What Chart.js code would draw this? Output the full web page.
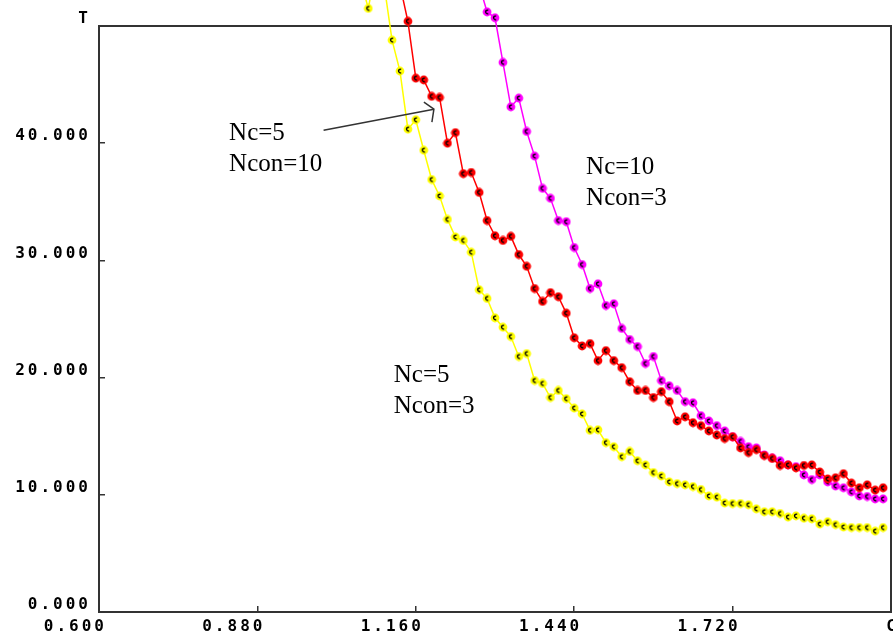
<!DOCTYPE html>
<html>
<head>
<meta charset="utf-8">
<script src="https://cdn.jsdelivr.net/npm/chart.js@4.4.0/dist/chart.umd.min.js"></script>
<style>
  body { margin: 0; background: #fff; }
  #wrap { width: 893px; height: 635px; }
</style>
</head>
<body>
<div id="wrap"><canvas id="chart" width="893" height="635"></canvas></div>
<script>
// C values shared by the three runs
const cValues = [1.062, 1.076, 1.090, 1.104, 1.118, 1.132, 1.146, 1.160, 1.174, 1.188,
  1.202, 1.216, 1.230, 1.244, 1.258, 1.272, 1.286, 1.300, 1.314, 1.328,
  1.342, 1.356, 1.370, 1.384, 1.398, 1.412, 1.426, 1.440, 1.454, 1.468,
  1.482, 1.496, 1.510, 1.524, 1.538, 1.552, 1.566, 1.580, 1.594, 1.608,
  1.622, 1.636, 1.650, 1.664, 1.678, 1.692, 1.706, 1.720, 1.734, 1.748,
  1.762, 1.776, 1.790, 1.804, 1.818, 1.832, 1.846, 1.860, 1.874, 1.888,
  1.902, 1.916, 1.930, 1.944, 1.958, 1.972, 1.986];

// T for Nc=5, Ncon=3 (yellow)
const tYellow = [54, 51.5, 55, 53.5, 48.8, 46.15, 41.2, 42.0, 39.4, 36.9,
  35.5, 33.5, 32.0, 31.7, 30.7, 27.5, 26.75, 25.1, 24.3, 23.5,
  21.8, 22.05, 19.75, 19.5, 18.3, 18.9, 18.2, 17.4, 16.9, 15.5,
  15.55, 14.45, 14.1, 13.25, 13.7, 12.9, 12.55, 11.9, 11.6, 11.1,
  10.95, 10.85, 10.7, 10.45, 9.9, 9.8, 9.3, 9.25, 9.25, 9.15,
  8.8, 8.55, 8.55, 8.4, 8.1, 8.2, 8.0, 7.95, 7.5, 7.7,
  7.45, 7.25, 7.2, 7.2, 7.2, 6.9, 7.2];

// T for Nc=5, Ncon=10 (red)
const tRed = [null, null, null, null, null, 53.5, 50.4, 45.55, 45.4, 44.0,
  43.9, 40.0, 40.9, 37.4, 37.5, 35.8, 33.4, 32.1, 31.7, 32.05,
  30.5, 29.5, 27.6, 26.5, 27.25, 26.9, 25.5, 23.4, 22.7, 22.9,
  21.45, 22.3, 21.45, 20.85, 19.65, 18.9, 18.9, 18.3, 18.8, 17.95,
  16.3, 16.65, 16.15, 15.9, 15.45, 15.1, 14.8, 14.95, 14.0, 13.6,
  13.85, 13.35, 13.1, 12.5, 12.55, 12.3, 12.5, 12.55, 11.95, 11.35,
  11.45, 11.8, 11.0, 10.6, 10.85, 10.4, 10.6];

// T for Nc=10, Ncon=3 (magenta)
const tMagenta = [null, null, null, null, null, null, null, null, null, null,
  null, null, null, null, null, 53.5, 51.2, 50.7, 46.9, 43.1,
  43.85, 41.0, 38.9, 36.15, 35.3, 33.4, 33.3, 31.1, 29.65, 27.6,
  28.0, 26.15, 26.3, 24.2, 23.25, 22.65, 21.2, 21.8, 19.75, 19.3,
  18.9, 17.95, 17.85, 16.75, 16.3, 15.9, 15.45, 14.95, 14.55, 14.1,
  14.0, 13.4, 13.15, 12.9, 12.55, 12.4, 11.7, 11.3, 11.7, 11.1,
  10.75, 10.6, 10.25, 9.9, 9.85, 9.65, 9.65];

const xTicks = [0.6, 0.88, 1.16, 1.44, 1.72, 2.0];
const yTicks = [0, 10, 20, 30, 40, 50];

// text notes, anchored in data units
const notes = [
  { lines: ["Nc=5", "Ncon=10"], x: 0.830, y: 40.3 },
  { lines: ["Nc=10", "Ncon=3"], x: 1.461, y: 37.35 },
  { lines: ["Nc=5", "Ncon=3"], x: 1.121, y: 19.66 }
];
const arrowFrom = { x: 0.997, y: 41.1 };
const arrowTo = { x: 1.192, y: 42.9 };

function pts(ys) {
  const out = [];
  ys.forEach((v, i) => { if (v !== null) out.push({ x: cValues[i], y: v }); });
  return out;
}

// little round marker with a dark mark inside, like the original plot
function marker(color) {
  const c = document.createElement('canvas');
  c.width = 10; c.height = 10;
  const g = c.getContext('2d');
  g.fillStyle = color;
  g.beginPath(); g.arc(5, 5, 4.4, 0, Math.PI * 2); g.fill();
  g.strokeStyle = '#000'; g.lineWidth = 1.3;
  g.beginPath(); g.arc(5.4, 5, 1.8, 0.35 * Math.PI, 1.65 * Math.PI); g.stroke();
  return c;
}

const framePlugin = {
  id: 'frame',
  beforeDraw(chart) {
    const { ctx, chartArea: a } = chart;
    ctx.save();
    ctx.fillStyle = '#fff';
    ctx.fillRect(0, 0, chart.width, chart.height);
    ctx.strokeStyle = '#333';
    ctx.lineWidth = 2;
    ctx.strokeRect(a.left, a.top, a.right - a.left, a.bottom - a.top);
    ctx.restore();
    ctx.letterSpacing = '3px';
  },
  beforeDatasetsDraw(chart) {
    chart.ctx.letterSpacing = '0px';
    // let markers above the frame be drawn too, as in the original
    chart._plotArea = chart.chartArea;
    chart.chartArea = Object.assign({}, chart.chartArea, { top: 0 });
  },
  afterDatasetsDraw(chart) {
    if (chart._plotArea) chart.chartArea = chart._plotArea;
  },
  afterDraw(chart) {
    const ctx = chart.ctx;
    const xs = chart.scales.x, ys = chart.scales.y;
    ctx.save();
    ctx.letterSpacing = '0px';
    ctx.fillStyle = '#000';
    ctx.font = '25px "Liberation Serif", "Times New Roman", serif';
    ctx.textBaseline = 'alphabetic';
    notes.forEach(n => {
      const px = xs.getPixelForValue(n.x), py = ys.getPixelForValue(n.y);
      n.lines.forEach((t, i) => ctx.fillText(t, px, py + i * 31));
    });
    const x1 = xs.getPixelForValue(arrowFrom.x), y1 = ys.getPixelForValue(arrowFrom.y);
    const x2 = xs.getPixelForValue(arrowTo.x), y2 = ys.getPixelForValue(arrowTo.y);
    ctx.strokeStyle = '#333';
    ctx.lineWidth = 1.5;
    ctx.beginPath();
    ctx.moveTo(x1, y1); ctx.lineTo(x2, y2);
    ctx.moveTo(x2 - 10, y2 - 7); ctx.lineTo(x2, y2); ctx.lineTo(x2 - 2, y2 + 13);
    ctx.stroke();
    ctx.restore();
  }
};

const tickFont = { family: '"DejaVu Sans Mono", monospace', size: 16, weight: 'bold' };

new Chart(document.getElementById('chart'), {
  type: 'line',
  data: {
    datasets: [
      { label: 'Nc=5 Ncon=10', data: pts(tRed), borderColor: '#ff0000', pointStyle: marker('#ff0000') },
      { label: 'Nc=10 Ncon=3', data: pts(tMagenta), borderColor: '#ff00ff', pointStyle: marker('#ff00ff') },
      { label: 'Nc=5 Ncon=3', data: pts(tYellow), borderColor: '#ffff00', pointStyle: marker('#ffff00') }
    ].map(d => Object.assign(d, { borderWidth: 1.5, clip: false, tension: 0, pointRadius: 5 }))
  },
  options: {
    responsive: false,
    animation: false,
    events: [],
    layout: { autoPadding: false, padding: { top: 26, right: 2, left: 0, bottom: 0 } },
    plugins: { legend: { display: false }, tooltip: { enabled: false } },
    scales: {
      x: {
        type: 'linear', min: 0.6, max: 2.0,
        afterBuildTicks: s => { s.ticks = xTicks.map(v => ({ value: v })); },
        afterFit: s => { s.height = 23; s.paddingLeft = 0; s.paddingRight = 0; },
        border: { display: false },
        grid: { drawOnChartArea: false, drawTicks: true, tickLength: -6, color: '#333', lineWidth: 1.5 },
        ticks: {
          autoSkip: false, maxRotation: 0, align: 'end', labelOffset: 8, padding: 11,
          color: '#000', font: tickFont,
          callback: v => (v === 2 ? 'C' : v.toFixed(3))
        }
      },
      y: {
        type: 'linear', min: 0, max: 50,
        afterBuildTicks: s => { s.ticks = yTicks.map(v => ({ value: v })); },
        afterFit: s => { s.width = 99; s.paddingTop = 0; s.paddingBottom = 0; },
        border: { display: false },
        grid: { drawOnChartArea: false, drawTicks: true, tickLength: -6, color: '#333', lineWidth: 1.5 },
        ticks: {
          autoSkip: false, labelOffset: -7, padding: 14,
          color: '#000', font: tickFont,
          callback: v => (v === 50 ? 'T' : v.toFixed(3))
        }
      }
    }
  },
  plugins: [framePlugin]
});
</script>
</body>
</html>
